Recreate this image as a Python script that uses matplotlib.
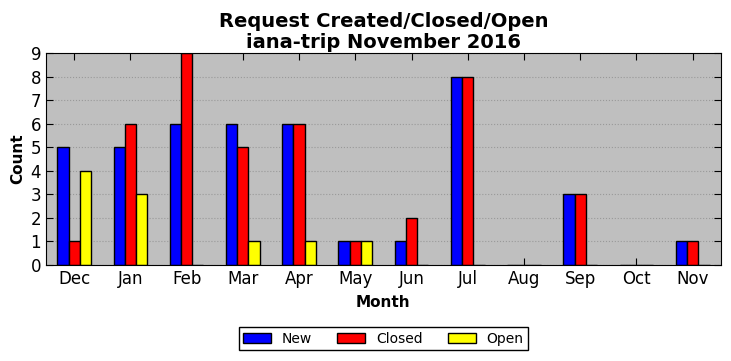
import matplotlib
matplotlib.use("Agg")
import matplotlib.pyplot as plt
import numpy as np

months = ["Dec", "Jan", "Feb", "Mar", "Apr", "May", "Jun", "Jul", "Aug", "Sep", "Oct", "Nov"]
new = [5, 5, 6, 6, 6, 1, 1, 8, 0, 3, 0, 1]
closed = [1, 6, 9, 5, 6, 1, 2, 8, 0, 3, 0, 1]
opened = [4, 3, 0, 1, 1, 1, 0, 0, 0, 0, 0, 0]

fig = plt.figure(figsize=(7.31, 3.61), dpi=100)
ax = fig.add_axes([0.063, 0.266, 0.923, 0.587])
ax.set_facecolor("#bfbfbf")

x = np.arange(len(months))
w = 0.2
ax.bar(x - w, new, w, color="blue", edgecolor="black", label="New")
ax.bar(x, closed, w, color="red", edgecolor="black", label="Closed")
ax.bar(x + w, opened, w, color="yellow", edgecolor="black", label="Open")

ax.set_xlim(-0.5, 11.5)
ax.set_ylim(0, 9)
ax.set_yticks(range(10))
ax.set_xticks(x)
ax.set_xticklabels(months)
ax.tick_params(direction="in", top=True, right=True, labelsize=12, length=5)
ax.yaxis.grid(True, linestyle=":", color="#999999")
ax.set_axisbelow(True)

ax.set_xlabel("Month", fontsize=11, fontweight="bold", labelpad=5)
ax.set_ylabel("Count", fontsize=11, fontweight="bold")
ax.set_title("Request Created/Closed/Open\niana-trip November 2016", fontsize=14,
             fontweight="bold", linespacing=1.08, pad=4)

leg = ax.legend(loc="upper center", bbox_to_anchor=(0.5, -0.295), ncol=3, fontsize=10,
                fancybox=False, framealpha=1, edgecolor="black", borderaxespad=0,
                columnspacing=1.8, borderpad=0.3)
leg.get_frame().set_linewidth(1)

fig.savefig("out.png", dpi=100)
